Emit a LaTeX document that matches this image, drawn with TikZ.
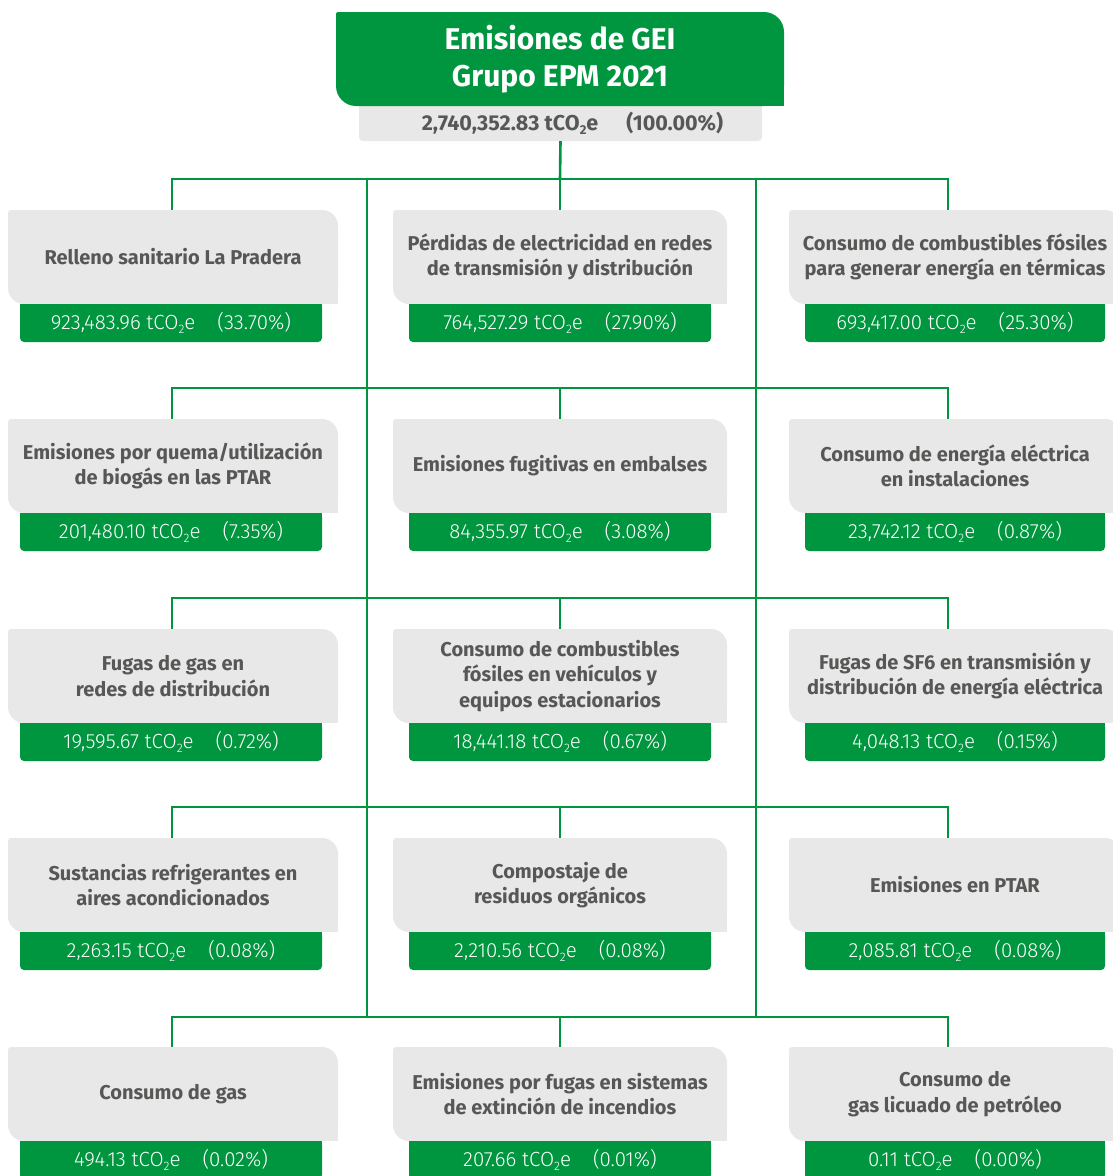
\documentclass[tikz,border=0pt]{standalone}
\usepackage{fontspec}
\setmainfont{Fira Sans}
\newfontfamily\lblfont{Fira Sans}
\newfontfamily\valfont{Fira Sans Light}
\definecolor{epmgreen}{HTML}{009640}
\definecolor{boxgray}{HTML}{E8E8E8}
\definecolor{txtgray}{HTML}{575756}
\newcommand\cotwo{tCO\raisebox{-0.35ex}{\scalebox{0.6}{2}}e}
\tikzset{
  conn/.style={draw=epmgreen, line width=2.6pt},
  catnode/.style={fill=boxgray, rounded corners=16pt, inner sep=0pt, align=center,
    text=txtgray, font=\lblfont\bfseries\fontsize{20}{25.5}\selectfont},
  valnode/.style={inner sep=0pt, text=white, font=\valfont\fontsize{20.5}{24}\selectfont},
  titlenode/.style={inner sep=0pt, align=center, text=white,
    font=\lblfont\bfseries\fontsize{30}{37}\selectfont},
  totnode/.style={inner sep=0pt, text=txtgray, font=\lblfont\bfseries\fontsize{21.5}{24}\selectfont}
}
% #1 name #2 gxl #3 gxr #4 gyt #5 vxl #6 vxr #7 label #8 value #9 pct
\newcommand\catbox[9]{%
  \fill[boxgray, rounded corners=3pt] (#2,#4) rectangle ++(24,24);
  \fill[boxgray] (#3,#4+94) rectangle ++(-24,-24);
  \node[catnode, minimum width={#3-#2}, minimum height=94] (#1) at ({(#2+#3)/2},{#4+47}) {#7};
  \fill[epmgreen, rounded corners=4pt] (#5,#4+94) rectangle (#6,#4+132);
  \fill[epmgreen] (#5,#4+94) rectangle (#6,#4+104);
  \node[valnode, minimum width={#6-#5}, minimum height=38] (#1v) at ({(#5+#6)/2},{#4+113}) {#8 \cotwo\hspace{22pt}(#9)};
}
\begin{document}
\begin{tikzpicture}[x=1pt, y=-1pt]
\useasboundingbox (0,0) rectangle (1113,1176);
\clip (0,0) rectangle (1113,1176);
% title
\fill[boxgray, rounded corners=4pt] (359,106) rectangle (762,141);
\fill[boxgray] (359,106) rectangle (762,116);
\fill[epmgreen, rounded corners=2pt] (336,12) rectangle ++(30,30);
\fill[epmgreen] (784,106) rectangle ++(-30,-30);
\node[titlenode, fill=epmgreen, rounded corners=20pt, minimum width=448, minimum height=94] (title) at (560,59) {Emisiones de GEI\\Grupo EPM 2021};
\node[totnode, minimum width=403, minimum height=35] (total) at (560.5,123.5) {\hspace*{24pt}2,740,352.83 \cotwo\hspace{28pt}(100.00\%)};

% row coordinates
\foreach \k/\y in {1/179, 2/388, 3/598, 4/807, 5/1017}{
  \coordinate (r\k l) at (172,\y);
  \coordinate (r\k m) at (560,\y);
  \coordinate (r\k r) at (948,\y);
  \coordinate (t\k a) at (367,\y);
  \coordinate (t\k b) at (756,\y);
}

% row 1
\catbox{g11}{8}{338}{210}{20}{322}{Relleno sanitario La Pradera}{923,483.96}{33.70\%}
\catbox{g12}{393}{727}{210}{409}{711}{Pérdidas de electricidad en redes\\de transmisión y distribución}{764,527.29}{27.90\%}
\catbox{g13}{789}{1121}{210}{805}{1105}{Consumo de combustibles fósiles\\para generar energía en térmicas}{693,417.00}{25.30\%}
% row 2
\catbox{g21}{8}{338}{419}{20}{322}{Emisiones por quema/utilización\\de biogás en las PTAR}{201,480.10}{7.35\%}
\catbox{g22}{393}{727}{419}{409}{711}{Emisiones fugitivas en embalses}{84,355.97}{3.08\%}
\catbox{g23}{789}{1121}{419}{805}{1105}{Consumo de energía eléctrica\\en instalaciones}{23,742.12}{0.87\%}
% row 3
\catbox{g31}{8}{338}{629}{20}{322}{Fugas de gas en\\redes de distribución}{19,595.67}{0.72\%}
\catbox{g32}{393}{727}{629}{409}{711}{Consumo de combustibles\\fósiles en vehículos y\\equipos estacionarios}{18,441.18}{0.67\%}
\catbox{g33}{789}{1121}{629}{805}{1105}{Fugas de SF6 en transmisión y\\distribución de energía eléctrica}{4,048.13}{0.15\%}
% row 4
\catbox{g41}{8}{338}{838}{20}{322}{Sustancias refrigerantes en\\aires acondicionados}{2,263.15}{0.08\%}
\catbox{g42}{393}{727}{838}{409}{711}{Compostaje de\\residuos orgánicos}{2,210.56}{0.08\%}
\catbox{g43}{789}{1121}{838}{805}{1105}{Emisiones en PTAR}{2,085.81}{0.08\%}
% row 5
\catbox{g51}{8}{338}{1047}{20}{322}{Consumo de gas}{494.13}{0.02\%}
\catbox{g52}{393}{727}{1047}{409}{711}{Emisiones por fugas en sistemas\\de extinción de incendios}{207.66}{0.01\%}
\catbox{g53}{789}{1121}{1047}{805}{1105}{Consumo de\\gas licuado de petróleo}{0.11}{0.00\%}

% connectors
\draw[conn] (total.south) -- (r1m);
\draw[conn] (t1a) -- (t5a);
\draw[conn] (t1b) -- (t5b);
\foreach \k in {1,...,5}{
  \draw[conn] (g\k1.north -| r\k l) -- (r\k l) -- (r\k r) -- (g\k3.north -| r\k r);
  \draw[conn] (r\k m) -- (g\k2.north);
}
\end{tikzpicture}
\end{document}
